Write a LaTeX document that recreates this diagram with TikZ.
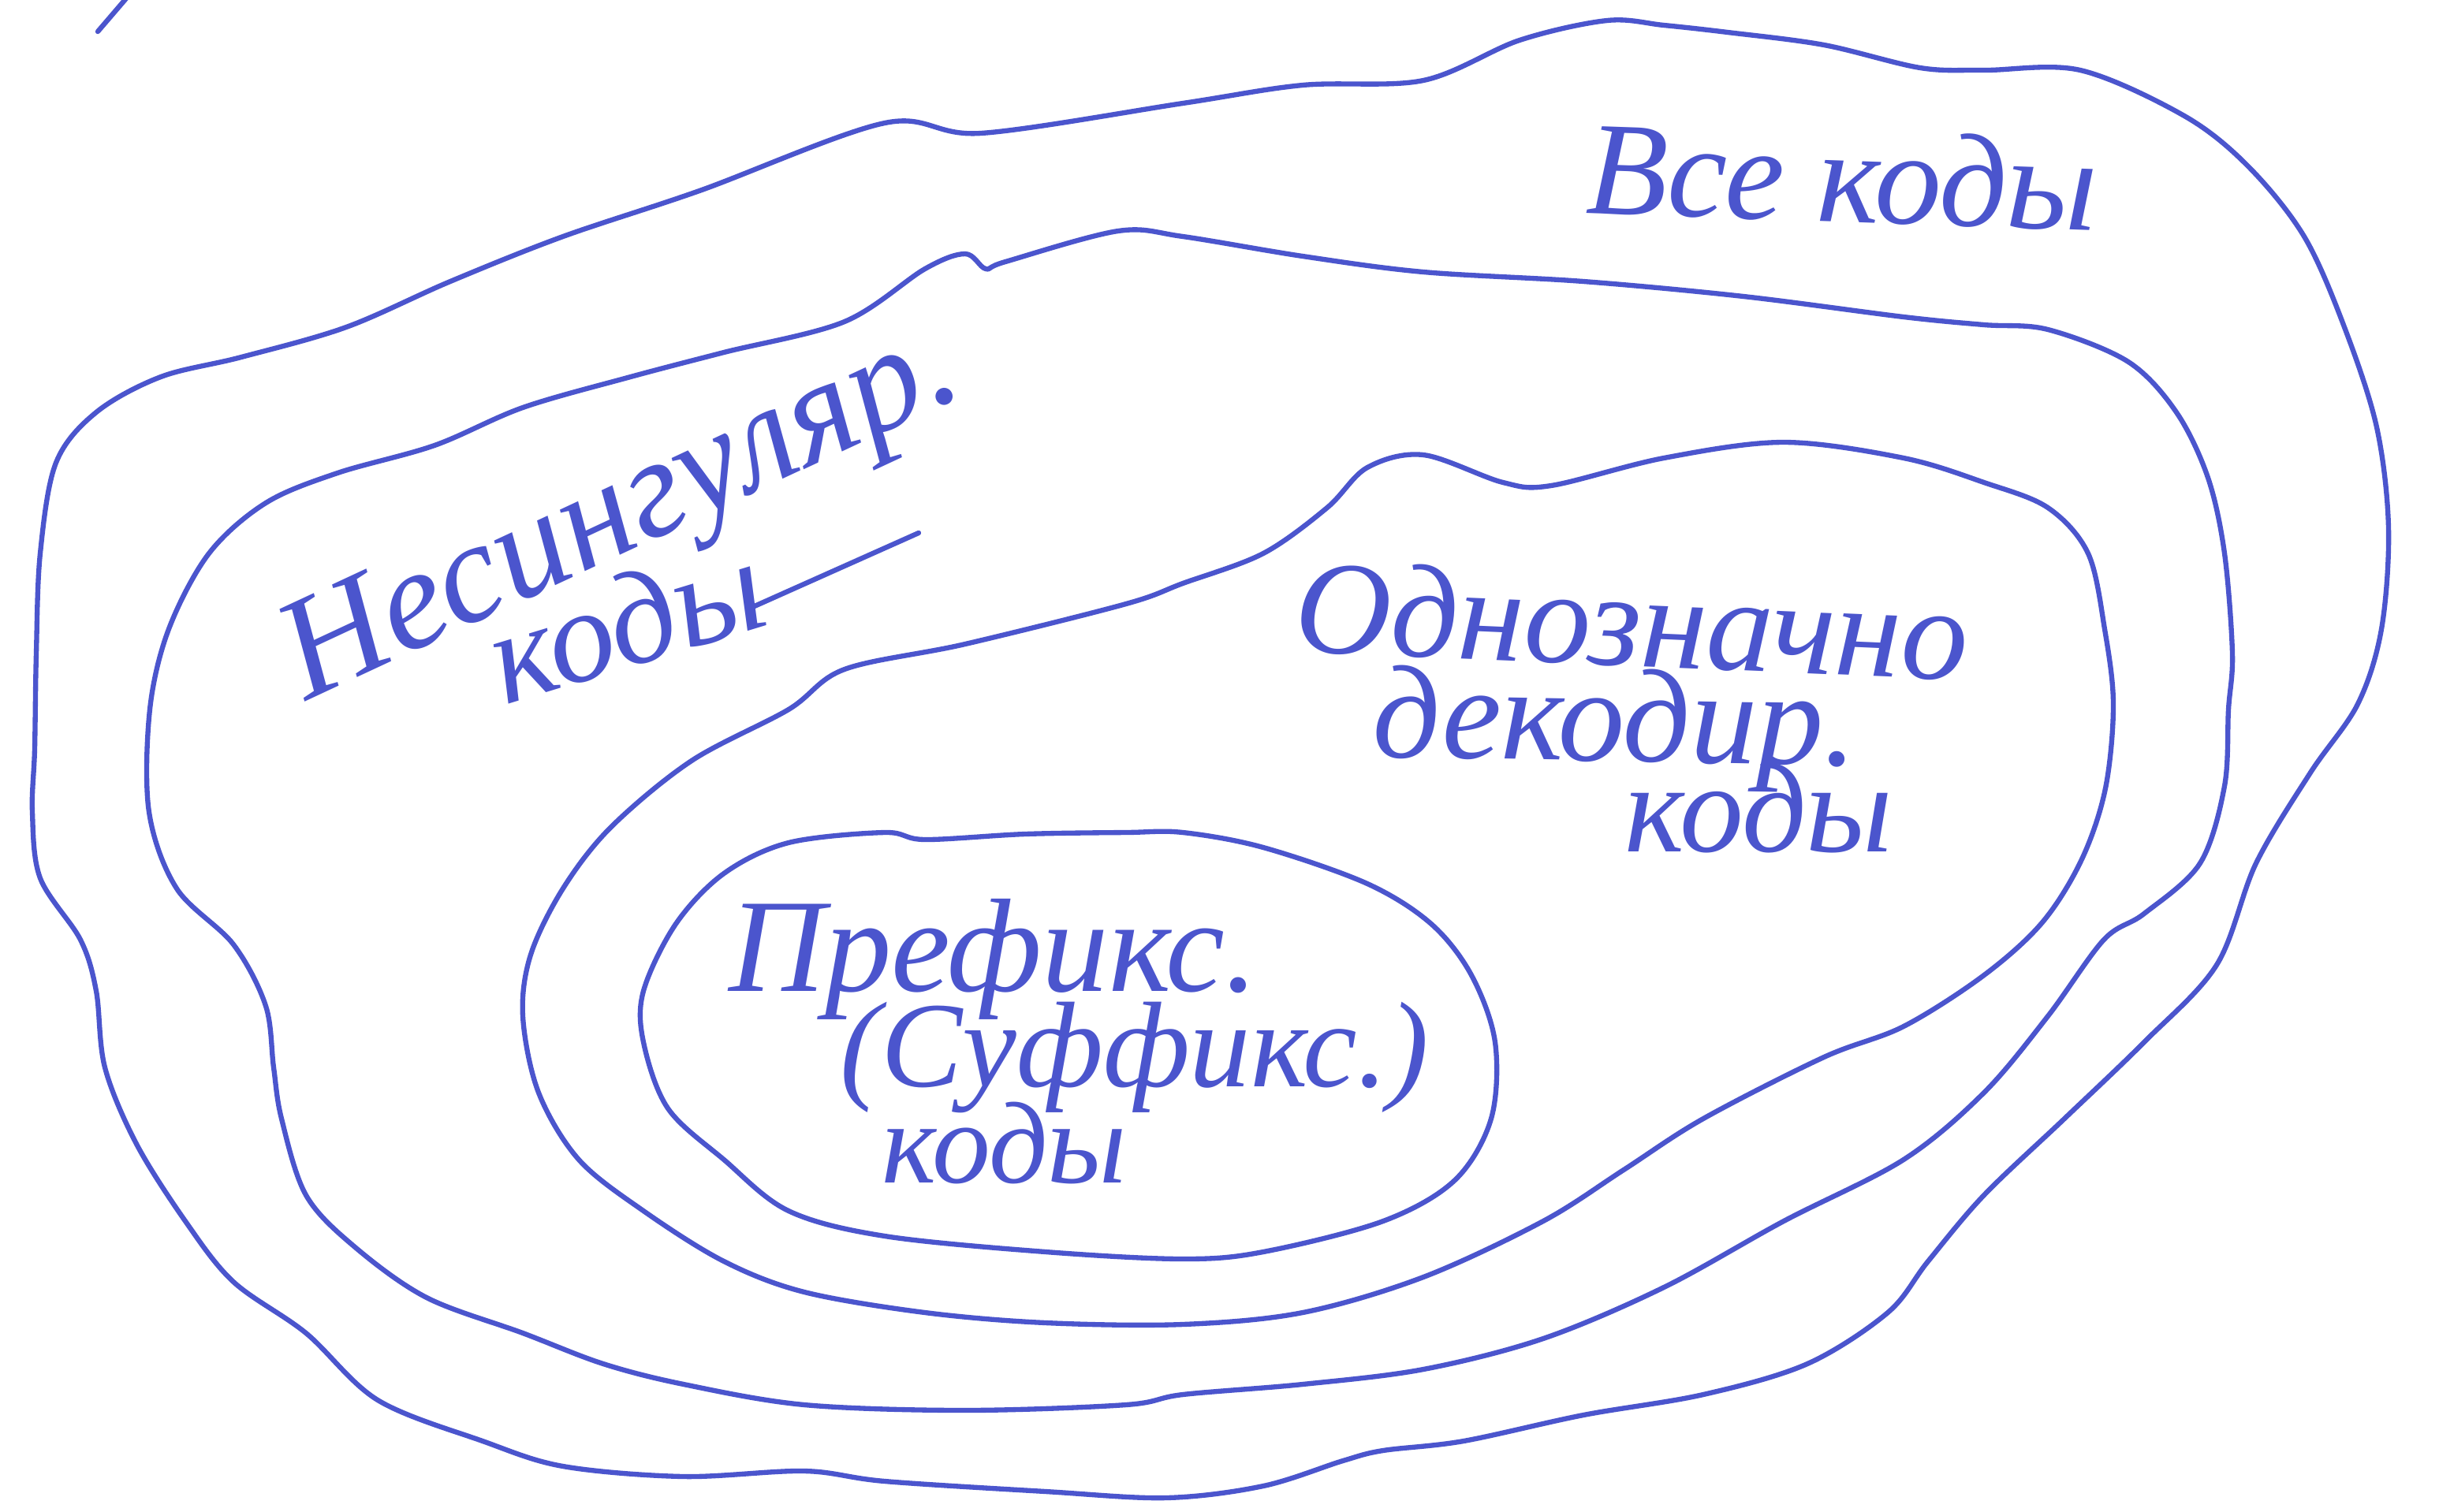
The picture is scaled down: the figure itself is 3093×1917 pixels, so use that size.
\documentclass[tikz,border=0pt]{standalone}
\usepackage{fontspec}
\setmainfont{Liberation Serif}
\definecolor{ink}{RGB}{75,85,205}
\begin{document}
\begin{tikzpicture}[x=0.01cm,y=-0.01cm,
  pen/.style={draw=ink,line width=1.8pt,line cap=round,line join=round},
  hand/.style={text=ink,inner sep=0pt,font=\itshape\fontsize{#1}{#1}\selectfont},
  hand/.default=48]
\fill[white] (0,0) rectangle (3093,1917);
\useasboundingbox (0,0) rectangle (3093,1917);

% stray stroke at top-left
\coordinate (s1) at (160,-2);
\coordinate (s2) at (124,40);
\draw[pen] (s1) -- (s2);

% outer region: all codes
\draw[pen] plot[smooth cycle,tension=0.55] coordinates {
 (51,702) (46,829) (44,950) (41,1030) (51,1114) (102,1192) (122,1257) (133,1354)
 (173,1451) (235,1549) (296,1626) (388,1691) (479,1776) (612,1828) (714,1860)
 (867,1873) (1020,1866) (1122,1879) (1326,1892) (1479,1900) (1602,1885)
 (1703,1853) (1754,1840) (1856,1828) (2008,1795) (2160,1769) (2292,1730)
 (2394,1665) (2445,1600) (2516,1516) (2618,1419) (2719,1322) (2811,1224)
 (2861,1095) (2930,980) (2990,893) (3020,798) (3029,670) (3014,542) (2973,415)
 (2922,300) (2851,211) (2770,147) (2638,89) (2516,89) (2435,86) (2313,57)
 (2191,41) (2110,32) (2038,26) (1927,51) (1805,102) (1652,108) (1500,131)
 (1244,169) (1122,156) (887,242) (714,300) (571,357) (439,415) (306,453)
 (204,478) (122,523) (71,587)};

% non-singular codes
\draw[pen] plot[smooth cycle,tension=0.55] coordinates {
 (1173,341) (1224,322) (1250,341) (1275,332) (1418,293) (1500,300) (1652,325)
 (1805,345) (2008,357) (2211,376) (2414,402) (2516,412) (2597,418) (2699,459)
 (2760,523) (2800,606) (2821,702) (2831,829) (2826,900) (2821,997) (2790,1095)
 (2719,1159) (2668,1192) (2597,1289) (2516,1386) (2414,1471) (2262,1549)
 (2110,1633) (1957,1698) (1805,1737) (1652,1756) (1500,1769) (1428,1782)
 (1224,1789) (1020,1782) (867,1756) (765,1730) (663,1691) (541,1646) (449,1581)
 (388,1516) (357,1419) (347,1354) (337,1276) (296,1198) (224,1127) (189,1030)
 (190,900) (214,798) (265,702) (337,638) (428,600) (551,565) (663,517)
 (796,479) (918,447) (1071,408)};

% uniquely decodable codes
\draw[pen] plot[smooth cycle,tension=0.55] coordinates {
 (1500,740) (1602,702) (1683,644) (1734,593) (1805,577) (1906,612) (1967,616)
 (2110,581) (2262,561) (2414,581) (2516,612) (2597,644) (2648,702) (2669,798)
 (2680,893) (2670,1000) (2640,1090) (2590,1170) (2516,1237) (2414,1302)
 (2313,1341) (2160,1419) (2059,1484) (1957,1549) (1805,1620) (1652,1665)
 (1500,1680) (1326,1678) (1173,1665) (1020,1639) (918,1600) (816,1536)
 (734,1471) (683,1386) (663,1289) (673,1211) (714,1127) (775,1049) (877,965)
 (1000,900) (1071,849) (1224,817) (1428,766)};

% prefix (suffix) codes
\draw[pen] plot[smooth cycle,tension=0.55] coordinates {
 (1000,1069) (1122,1056) (1173,1065) (1300,1058) (1428,1056) (1500,1056)
 (1602,1075) (1734,1121) (1815,1172) (1866,1237) (1896,1322) (1891,1419)
 (1845,1497) (1754,1549) (1602,1588) (1500,1597) (1326,1588) (1122,1568)
 (1000,1536) (918,1471) (847,1406) (816,1322) (816,1257) (857,1172) (918,1108)};

% labels
\node[hand=48,anchor=base west,rotate=-2] (all) at (2010,270) {Все коды};
\node[hand=52,anchor=base west,rotate=25] (ns1) at (388,890) {Несингуляр.};
\node[hand=48,anchor=base west,rotate=17] (ns2) at (640,895) {коды};
\coordinate (u1) at (950,772);
\coordinate (u2) at (1165,676);
\draw[pen] (u1) -- (u2);
\node[hand=48,anchor=base west,rotate=-2.5] (ud1) at (1640,826) {Однозначно};
\node[hand=48,anchor=base west,rotate=-1] (ud2) at (1740,960) {декодир.};
\node[hand=46,anchor=base west] (ud3) at (2060,1080) {коды};
\node[hand=48,anchor=base west] (pf1) at (924,1257) {Префикс.};
\node[hand=44,anchor=base west] (pf2) at (1065,1378) {(Суффикс.)};
\node[hand=42,anchor=base west] (pf3) at (1118,1500) {коды};
\end{tikzpicture}
\end{document}
